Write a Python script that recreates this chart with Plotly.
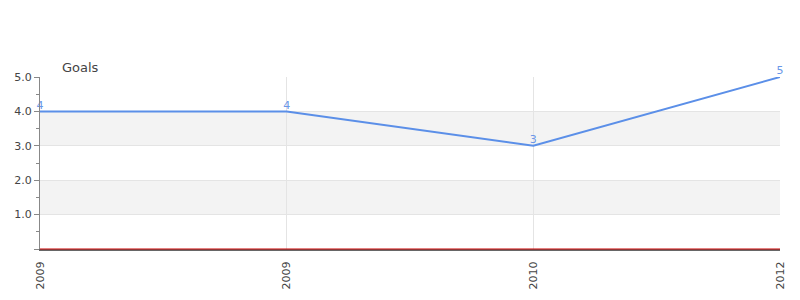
import plotly.graph_objects as go

years = ["2009", "2009", "2010", "2012"]
goals = [4, 4, 3, 5]
y_tick_vals = [0, 1, 2, 3, 4, 5]
y_tick_text = ["", "1.0", "2.0", "3.0", "4.0", "5.0"]
bands = [(1, 2), (3, 4)]
title = "Goals"

x_idx = list(range(len(years)))

fig = go.Figure()
fig.add_trace(go.Scatter(
    x=x_idx, y=goals, mode="lines+text",
    text=[str(g) for g in goals], textposition="top center",
    textfont=dict(family="DejaVu Sans", size=11, color="#6a97e8"),
    line=dict(color="#5b8fe8", width=2),
    cliponaxis=False, hoverinfo="skip",
))

shapes = []
for y0, y1 in bands:
    shapes.append(dict(type="rect", xref="paper", yref="y", x0=0, x1=1, y0=y0, y1=y1,
                       fillcolor="#f3f3f3", line=dict(width=0), layer="below"))
shapes.append(dict(type="line", xref="paper", yref="paper", x0=0, x1=1, y0=0, y1=0,
                   line=dict(color="#cc0000", width=1), layer="above"))

fig.update_layout(
    width=800, height=300,
    margin=dict(l=40, r=20, t=77, b=51),
    paper_bgcolor="white", plot_bgcolor="white",
    showlegend=False,
    font=dict(family="DejaVu Sans", size=11, color="#444"),
    shapes=shapes,
    annotations=[dict(text=title, xref="paper", yref="paper", x=0, y=1, xshift=20, yshift=10,
                      xanchor="left", yanchor="middle", showarrow=False,
                      font=dict(family="DejaVu Sans", size=13, color="#444"))],
    xaxis=dict(
        range=[0, len(years) - 1], tickmode="array", tickvals=x_idx, ticktext=years,
        tickangle=-90, showgrid=True, gridcolor="#e4e4e4", gridwidth=1,
        showline=True, linecolor="#666", linewidth=2, ticks="", zeroline=False,
        ticklabelstandoff=6,
        tickfont=dict(family="DejaVu Sans", size=11, color="#444"),
    ),
    yaxis=dict(
        range=[0, 5], tickmode="array", tickvals=y_tick_vals, ticktext=y_tick_text,
        showgrid=True, gridcolor="#e4e4e4", gridwidth=1, zeroline=False,
        showline=True, linecolor="#888", linewidth=1,
        ticks="outside", ticklen=5, tickcolor="#888",
        minor=dict(dtick=0.5, tick0=0, ticks="outside", ticklen=3, tickcolor="#888", showgrid=False),
        tickfont=dict(family="DejaVu Sans", size=11, color="#444"),
    ),
)

fig.write_html("out.html")
